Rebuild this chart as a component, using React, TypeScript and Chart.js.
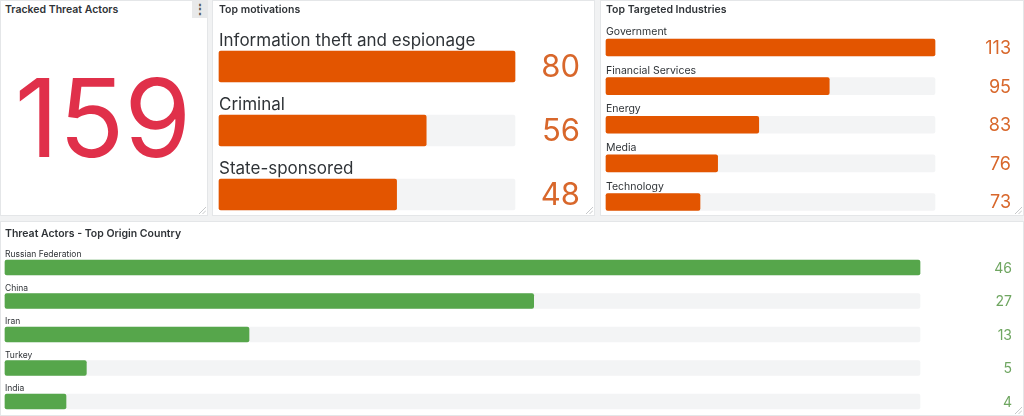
import React, { useEffect, useRef } from "react";
import { Chart, registerables } from "chart.js";

Chart.register(...registerables);

// ---- data ----
const trackedActors = 159;

const motivationLabels = ["Information theft and espionage", "Criminal", "State-sponsored"];
const motivationValues = [80, 56, 48];
const motivationMin = 0;
const motivationMax = 80;

const industryLabels = ["Government", "Financial Services", "Energy", "Media", "Technology"];
const industryValues = [113, 95, 83, 76, 73];
const industryMin = 57;
const industryMax = 113;

const countryLabels = ["Russian Federation", "China", "Iran", "Turkey", "India"];
const countryValues = [46, 27, 13, 5, 4];
const countryMin = 1;
const countryMax = 46;

const FONT = "Inter, Roboto, 'Noto Sans', sans-serif";
const ORANGE = "#E35500";
const ORANGE_TEXT = "#D8672B";
const GREEN = "#56A64B";
const GREEN_TEXT = "#6FA661";
const TRACK = "#F3F4F5";
const TEXT = "#2f3337";

type BarPanelProps = {
  labels: string[];
  values: number[];
  min: number;
  max: number;
  color: string;
  valueColor: string;
  width: number;
  height: number;
  pad: { left: number; right: number; top: number; bottom: number };
  thickness: number;
  labelFont: string;
  labelGap: number;
  valueFont: string;
  valueRight: number;
};

function BarPanel(p: BarPanelProps) {
  const ref = useRef<HTMLCanvasElement | null>(null);
  useEffect(() => {
    if (!ref.current) return;
    const textPlugin = {
      id: "barText",
      afterDatasetsDraw(chart: any) {
        const ctx = chart.ctx;
        const meta = chart.getDatasetMeta(0);
        ctx.save();
        meta.data.forEach((el: any, i: number) => {
          const top = el.y - p.thickness / 2;
          ctx.font = p.labelFont;
          ctx.fillStyle = TEXT;
          ctx.textAlign = "left";
          ctx.textBaseline = "alphabetic";
          ctx.fillText(p.labels[i], chart.chartArea.left, top - p.labelGap);
          ctx.font = p.valueFont;
          ctx.fillStyle = p.valueColor;
          ctx.textAlign = "right";
          ctx.textBaseline = "middle";
          ctx.fillText(String(p.values[i]), p.valueRight, el.y + 1);
        });
        ctx.restore();
      },
    };
    const chart = new Chart(ref.current, {
      type: "bar",
      data: {
        labels: p.labels,
        datasets: [
          {
            data: p.values,
            base: p.min,
            backgroundColor: p.color,
            borderRadius: 2,
            borderSkipped: false,
            barThickness: p.thickness,
            grouped: false,
            order: 1,
            clip: false,
          } as any,
          {
            data: p.values.map(() => p.max),
            base: p.min,
            backgroundColor: TRACK,
            borderRadius: 2,
            borderSkipped: false,
            barThickness: p.thickness,
            grouped: false,
            order: 2,
            clip: false,
          } as any,
        ],
      },
      options: {
        indexAxis: "y",
        animation: false,
        responsive: false,
        maintainAspectRatio: false,
        layout: { padding: p.pad },
        plugins: { legend: { display: false }, tooltip: { enabled: false } },
        scales: {
          x: { display: false, min: p.min, max: p.max },
          y: { display: false, offset: false },
        },
      },
      plugins: [textPlugin],
    });
    return () => chart.destroy();
  }, []);
  return (
    <canvas
      ref={ref}
      width={p.width}
      height={p.height}
      style={{ position: "absolute", left: 0, top: 0, width: p.width, height: p.height }}
    />
  );
}

const panelStyle = (left: number, top: number, width: number, height: number): React.CSSProperties => ({
  position: "absolute",
  left,
  top,
  width,
  height,
  background: "#fff",
  boxShadow: "inset 0 0 0 1px #e4e6e8",
  overflow: "hidden",
});

const titleStyle = (left: number, top: number): React.CSSProperties => ({
  position: "absolute",
  left,
  top,
  font: `600 10.5px ${FONT}`,
  lineHeight: "11px",
  color: TEXT,
  whiteSpace: "nowrap",
  zIndex: 2,
});

function Resize() {
  return (
    <svg width="8" height="8" style={{ position: "absolute", right: 2, bottom: 2, zIndex: 3 }}>
      <line x1="1" y1="8" x2="8" y2="1" stroke="#b8babd" strokeWidth="0.8" />
      <line x1="4.5" y1="8" x2="8" y2="4.5" stroke="#b8babd" strokeWidth="0.8" />
    </svg>
  );
}

export default function App() {
  return (
    <div
      style={{
        position: "absolute",
        left: 0,
        top: 0,
        width: 1024,
        height: 416,
        background: "#f1f2f3",
        overflow: "hidden",
        fontFamily: FONT,
      }}
    >
      {/* Panel 1 */}
      <div style={panelStyle(0, 0, 208, 216)}>
        <div style={titleStyle(5, 4)}>Tracked Threat Actors</div>
        <div
          style={{
            position: "absolute",
            left: 192,
            top: 0,
            width: 16,
            height: 18,
            background: "#e8e9ea",
            color: "#555",
            font: `700 12px ${FONT}`,
            lineHeight: "18px",
            textAlign: "center",
          }}
        >
          ⋮
        </div>
        <div
          style={{
            position: "absolute",
            left: 0,
            width: 206,
            top: 64,
            textAlign: "center",
            font: `400 108px ${FONT}`,
            lineHeight: "108px",
            color: "#E0304A",
          }}
        >
          {trackedActors}
        </div>
        <Resize />
      </div>

      {/* Panel 2 */}
      <div style={panelStyle(212, 0, 383, 216)}>
        <div style={titleStyle(7, 4)}>Top motivations</div>
        <BarPanel
          labels={motivationLabels}
          values={motivationValues}
          min={motivationMin}
          max={motivationMax}
          color={ORANGE}
          valueColor={ORANGE_TEXT}
          width={383}
          height={216}
          pad={{ left: 7, right: 80, top: 66.5, bottom: 21.5 }}
          thickness={31}
          labelFont={`400 17px ${FONT}`}
          labelGap={5.5}
          valueFont={`400 31px ${FONT}`}
          valueRight={368}
        />
        <Resize />
      </div>

      {/* Panel 3 */}
      <div style={panelStyle(600, 0, 424, 216)}>
        <div style={titleStyle(6, 4)}>Top Targeted Industries</div>
        <BarPanel
          labels={industryLabels}
          values={industryValues}
          min={industryMin}
          max={industryMax}
          color={ORANGE}
          valueColor={ORANGE_TEXT}
          width={424}
          height={216}
          pad={{ left: 6, right: 89, top: 47.5, bottom: 14 }}
          thickness={17}
          labelFont={`400 10.5px ${FONT}`}
          labelGap={4}
          valueFont={`400 18px ${FONT}`}
          valueRight={411}
        />
        <Resize />
      </div>

      {/* Panel 4 */}
      <div style={panelStyle(0, 221, 1024, 195)}>
        <div style={titleStyle(5, 7)}>Threat Actors - Top Origin Country</div>
        <BarPanel
          labels={countryLabels}
          values={countryValues}
          min={countryMin}
          max={countryMax}
          color={GREEN}
          valueColor={GREEN_TEXT}
          width={1024}
          height={195}
          pad={{ left: 5, right: 104, top: 46.5, bottom: 14.5 }}
          thickness={15}
          labelFont={`400 8.5px ${FONT}`}
          labelGap={3}
          valueFont={`400 14px ${FONT}`}
          valueRight={1012}
        />
        <Resize />
      </div>
    </div>
  );
}
